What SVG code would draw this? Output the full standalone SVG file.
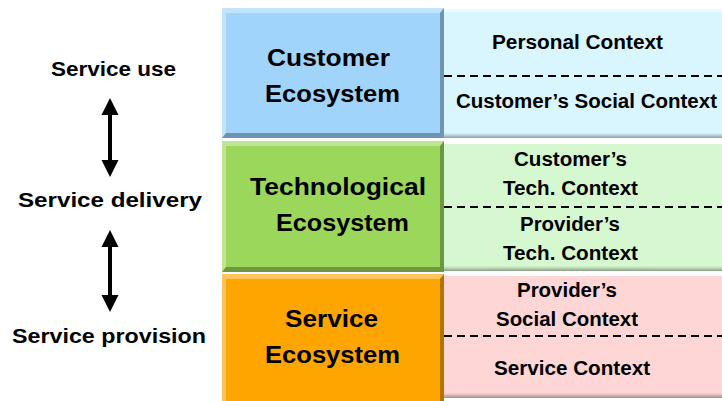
<svg xmlns="http://www.w3.org/2000/svg" width="722" height="401" viewBox="0 0 722 401">
<style>
text{font-family:"Liberation Sans",Arial,sans-serif;font-weight:bold;fill:#000}
.big{font-size:23.5px}
.mid{font-size:20.5px}
.sm{font-size:20px}
.dash{stroke:#000;stroke-width:2;stroke-dasharray:8 5;fill:none}
.hi{fill:#fff;opacity:0.35}
.sh{fill:#000;opacity:0.3}
</style>
<defs>
<linearGradient id="bot" x1="0" y1="0" x2="0" y2="1"><stop offset="0" stop-color="#000" stop-opacity="0"/><stop offset="1" stop-color="#000" stop-opacity="0.35"/></linearGradient>
</defs>
<rect width="722" height="401" fill="#fff"/>
<g id="labels">
<text class="mid" x="51" y="76" textLength="125" lengthAdjust="spacingAndGlyphs">Service use</text>
<text class="mid" x="18" y="207" textLength="184" lengthAdjust="spacingAndGlyphs">Service delivery</text>
<text class="mid" x="12" y="343" textLength="194" lengthAdjust="spacingAndGlyphs">Service provision</text>
</g>
<g id="connectors">
<polygon points="110,98 118.5,115 112,115 112,160 118.5,160 110,177 101.5,160 108,160 108,115 101.5,115" fill="#000"/>
<polygon points="110,230 118.5,247 112,247 112,295 118.5,295 110,312 101.5,295 108,295 108,247 101.5,247" fill="#000"/>
</g>
<g id="customer-context">
<rect x="444" y="9" width="278" height="129" fill="#D9F6FF"/>
<rect x="444" y="9" width="278" height="3" fill="#fff" opacity="0.5"/>
<rect x="444" y="133" width="278" height="5" fill="url(#bot)"/>
<line class="dash" x1="444" y1="76" x2="722" y2="76"/>
<text class="sm" x="492" y="49" textLength="171" lengthAdjust="spacingAndGlyphs">Personal Context</text>
<text class="sm" x="456" y="108" textLength="261" lengthAdjust="spacingAndGlyphs">Customer’s Social Context</text>
</g>
<g id="tech-context">
<rect x="444" y="144" width="278" height="127" fill="#D6F8D0"/>
<rect x="444" y="266" width="278" height="5" fill="url(#bot)"/>
<line class="dash" x1="444" y1="207" x2="722" y2="207"/>
<text class="sm" x="514" y="166" textLength="113" lengthAdjust="spacingAndGlyphs">Customer’s</text>
<text class="sm" x="503" y="195" textLength="135" lengthAdjust="spacingAndGlyphs">Tech. Context</text>
<text class="sm" x="520" y="231" textLength="100" lengthAdjust="spacingAndGlyphs">Provider’s</text>
<text class="sm" x="503" y="260" textLength="135" lengthAdjust="spacingAndGlyphs">Tech. Context</text>
</g>
<g id="service-context">
<rect x="444" y="276" width="278" height="122" fill="#FFD6D6"/>
<rect x="444" y="393" width="278" height="5" fill="url(#bot)"/>
<line class="dash" x1="444" y1="336" x2="722" y2="336"/>
<text class="sm" x="517" y="297" textLength="100" lengthAdjust="spacingAndGlyphs">Provider’s</text>
<text class="sm" x="496" y="326" textLength="142" lengthAdjust="spacingAndGlyphs">Social Context</text>
<text class="sm" x="494" y="375" textLength="156" lengthAdjust="spacingAndGlyphs">Service Context</text>
</g>
<g id="customer-ecosystem">
<rect x="222" y="8" width="222" height="130" fill="#A0D4FB"/>
<polygon class="hi" points="222,8 444,8 440,13 226,13"/>
<polygon class="hi" points="222,8 226,13 226,133 222,138"/>
<polygon class="sh" points="444,8 444,138 440,133 440,13"/>
<polygon class="sh" points="222,138 444,138 440,133 226,133"/>
<text class="big" x="267" y="66" textLength="123" lengthAdjust="spacingAndGlyphs">Customer</text>
<text class="big" x="265" y="102" textLength="135" lengthAdjust="spacingAndGlyphs">Ecosystem</text>
</g>
<g id="tech-ecosystem">
<rect x="222" y="141" width="222" height="131" fill="#9BD75B"/>
<polygon class="hi" points="222,141 444,141 440,146 226,146"/>
<polygon class="hi" points="222,141 226,146 226,267 222,272"/>
<polygon class="sh" points="444,141 444,272 440,267 440,146"/>
<polygon class="sh" points="222,272 444,272 440,267 226,267"/>
<text class="big" x="250" y="195" textLength="176" lengthAdjust="spacingAndGlyphs">Technological</text>
<text class="big" x="276" y="231" textLength="133" lengthAdjust="spacingAndGlyphs">Ecosystem</text>
</g>
<g id="service-ecosystem">
<rect x="222" y="274" width="222" height="127" fill="#FFA500"/>
<polygon class="hi" points="222,274 444,274 440,279 226,279"/>
<polygon class="hi" points="222,274 226,279 226,401 222,401"/>
<polygon class="sh" points="444,274 444,401 440,401 440,279"/>
<text class="big" x="285" y="327" textLength="93" lengthAdjust="spacingAndGlyphs">Service</text>
<text class="big" x="265" y="363" textLength="135" lengthAdjust="spacingAndGlyphs">Ecosystem</text>
</g>
</svg>
